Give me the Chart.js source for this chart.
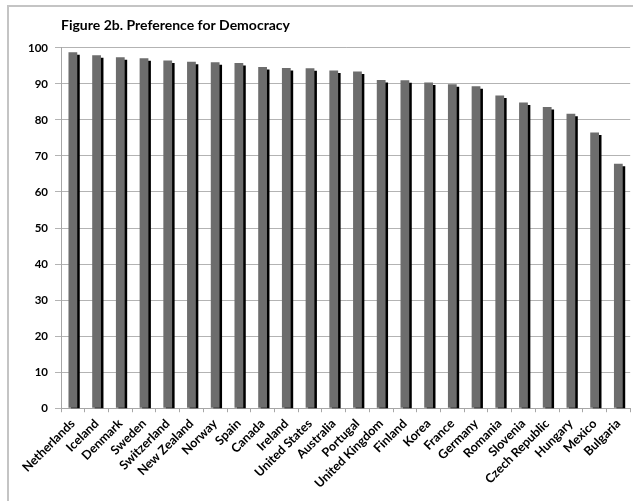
<!DOCTYPE html>
<html>
<head>
<meta charset="utf-8">
<script src="https://cdn.jsdelivr.net/npm/chart.js@4"></script>
<style>
  body { margin: 0; background: #fff; }
</style>
</head>
<body>
<canvas id="demChart" width="633" height="501"></canvas>
<script>
// Figure 2b data
const countries = ['Netherlands', 'Iceland', 'Denmark', 'Sweden', 'Switzerland', 'New Zealand', 'Norway', 'Spain',
    'Canada', 'Ireland', 'United States', 'Australia', 'Portugal', 'United Kingdom', 'Finland', 'Korea',
    'France', 'Germany', 'Romania', 'Slovenia', 'Czech Republic', 'Hungary', 'Mexico', 'Bulgaria'];
const preference = [98.8, 97.9, 97.4, 97.1, 96.5, 96.1, 96.0, 95.8,
    94.7, 94.4, 94.3, 93.7, 93.4, 91.1, 91.0, 90.4,
    89.9, 89.3, 86.8, 84.8, 83.6, 81.7, 76.5, 67.8];
const yTicks = [0, 10, 20, 30, 40, 50, 60, 70, 80, 90, 100];

const fontFamily = 'Lato, "Open Sans", sans-serif';

// grey frame around the chart + bar shadow
const framePlugin = {
    id: 'frame',
    beforeDraw(chart) {
        const ctx = chart.ctx;
        ctx.save();
        ctx.fillStyle = '#fff';
        ctx.fillRect(0, 0, chart.width, chart.height);
        ctx.strokeStyle = '#c4c4c4';
        ctx.lineWidth = 2;
        ctx.strokeRect(8, 6, 700, 600);
        ctx.restore();
    },
    beforeDatasetsDraw(chart) {
        const ctx = chart.ctx;
        ctx.save();
        ctx.shadowColor = '#000';
        ctx.shadowOffsetX = 2.5;
        ctx.shadowOffsetY = 2.5;
        ctx.shadowBlur = 0;
    },
    afterDatasetsDraw(chart) {
        chart.ctx.restore();
    }
};

new Chart(document.getElementById('demChart').getContext('2d'), {
    type: 'bar',
    data: {
        labels: countries,
        datasets: [{
            label: 'Preference for Democracy',
            data: preference,
            backgroundColor: '#6d6d6d',
            borderWidth: 0,
            categoryPercentage: 1,
            barPercentage: 0.37
        }]
    },
    options: {
        responsive: false,
        animation: false,
        layout: { padding: { left: 21, top: 13, right: 1, bottom: 6 } },
        plugins: {
            legend: { display: false },
            tooltip: { enabled: false },
            title: {
                display: true,
                text: 'Figure 2b. Preference for Democracy',
                align: 'start',
                fullSize: false,
                color: '#000',
                font: { family: fontFamily, size: 14, weight: 'bold' },
                padding: { top: 4, bottom: 14 }
            }
        },
        scales: {
            x: {
                grid: {
                    display: true,
                    drawOnChartArea: false,
                    drawTicks: true,
                    tickLength: 4,
                    color: '#a6a6a6',
                    offset: true
                },
                border: { color: '#a6a6a6', width: 1 },
                ticks: {
                    color: '#000',
                    minRotation: 45,
                    maxRotation: 45,
                    autoSkip: false,
                    padding: 4,
                    font: { family: fontFamily, size: 12.5, weight: 'bold' }
                }
            },
            y: {
                min: 0,
                max: 100,
                afterBuildTicks(axis) {
                    axis.ticks = yTicks.map(v => ({ value: v }));
                },
                grid: {
                    color: '#b3b3b3',
                    tickLength: 6
                },
                border: { color: '#a6a6a6', width: 1 },
                ticks: {
                    color: '#000',
                    padding: 7,
                    font: { family: fontFamily, size: 11.5, weight: 'bold' }
                }
            }
        }
    },
    plugins: [framePlugin]
});
</script>
</body>
</html>
